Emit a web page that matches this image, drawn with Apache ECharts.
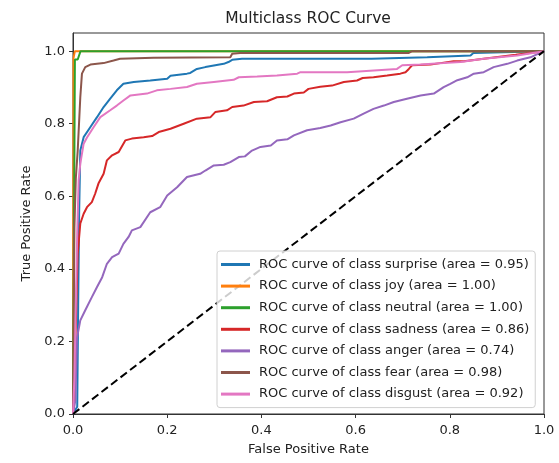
<!DOCTYPE html>
<html>
<head>
<meta charset="utf-8">
<script src="https://cdn.jsdelivr.net/npm/echarts@6/dist/echarts.min.js"></script>
<style>html,body{margin:0;padding:0;background:#fff}#c{width:559px;height:463px}</style>
</head>
<body>
<div id="c"></div>
<script>
// ---- data ----
const classNames = ['surprise', 'joy', 'neutral', 'sadness', 'anger', 'fear', 'disgust'];
const aucValues = ['0.95', '1.00', '1.00', '0.86', '0.74', '0.98', '0.92'];
const colors = ['#1f77b4', '#ff7f0e', '#2ca02c', '#d62728', '#9467bd', '#8c564b', '#e377c2'];
const tickValues = [0, 0.2, 0.4, 0.6, 0.8, 1.0];

const rocSurprise = [[0,0],[0.009,0.02],[0.011,0.3],[0.013,0.55],[0.0155,0.726],[0.0226,0.763],[0.037,0.791],[0.051,0.818],[0.065,0.846],[0.079,0.869],[0.093,0.892],[0.107,0.91],[0.129,0.915],[0.164,0.919],[0.2,0.924],[0.207,0.932],[0.242,0.938],[0.249,0.94],[0.263,0.951],[0.281,0.956],[0.32,0.965],[0.33,0.97],[0.338,0.976],[0.359,0.979],[0.634,0.979],[0.638,0.983],[0.752,0.983],[0.756,0.988],[0.844,0.988],[0.85,0.995],[1,1]];
const rocJoy = [[0,0],[0.001,0.98],[0.004,1.0],[1,1]];
const rocNeutral = [[0,0],[0.004,0.977],[0.01,0.977],[0.016,1.0],[1,1]];
const rocSadness = [[0,0],[0.0013,0.019],[0.004,0.15],[0.007,0.295],[0.01,0.442],[0.0155,0.525],[0.0226,0.552],[0.0297,0.57],[0.04,0.584],[0.047,0.607],[0.054,0.635],[0.065,0.662],[0.072,0.699],[0.083,0.713],[0.097,0.722],[0.1,0.726],[0.111,0.754],[0.125,0.759],[0.15,0.763],[0.168,0.766],[0.182,0.777],[0.207,0.786],[0.235,0.8],[0.263,0.814],[0.292,0.818],[0.302,0.832],[0.327,0.837],[0.338,0.846],[0.362,0.85],[0.384,0.86],[0.412,0.862],[0.433,0.873],[0.455,0.875],[0.469,0.883],[0.49,0.886],[0.5,0.896],[0.525,0.902],[0.55,0.905],[0.575,0.915],[0.603,0.919],[0.615,0.926],[0.638,0.928],[0.667,0.933],[0.695,0.938],[0.706,0.942],[0.713,0.951],[0.72,0.961],[0.759,0.963],[0.78,0.967],[0.808,0.972],[0.83,0.972],[0.872,0.979],[0.94,0.99],[1,1]];
const rocAnger = [[0,0],[0.005,0.038],[0.0085,0.21],[0.0155,0.258],[0.026,0.286],[0.04,0.322],[0.051,0.35],[0.062,0.377],[0.072,0.414],[0.083,0.432],[0.097,0.442],[0.107,0.469],[0.118,0.488],[0.125,0.506],[0.143,0.515],[0.164,0.556],[0.185,0.57],[0.2,0.602],[0.221,0.625],[0.242,0.653],[0.27,0.662],[0.281,0.671],[0.299,0.685],[0.32,0.687],[0.334,0.694],[0.352,0.708],[0.365,0.71],[0.38,0.726],[0.398,0.736],[0.42,0.74],[0.433,0.754],[0.455,0.757],[0.469,0.768],[0.497,0.782],[0.525,0.788],[0.547,0.795],[0.568,0.804],[0.596,0.814],[0.617,0.828],[0.638,0.841],[0.66,0.85],[0.681,0.86],[0.709,0.869],[0.738,0.878],[0.766,0.883],[0.787,0.901],[0.801,0.91],[0.816,0.92],[0.837,0.928],[0.851,0.938],[0.872,0.942],[0.893,0.956],[0.922,0.965],[0.943,0.974],[0.971,0.983],[1,1]];
const rocFear = [[0,0],[0.001,0.2],[0.003,0.515],[0.006,0.65],[0.01,0.726],[0.0155,0.873],[0.019,0.938],[0.026,0.956],[0.037,0.963],[0.065,0.967],[0.086,0.974],[0.1,0.979],[0.171,0.982],[0.334,0.983],[0.338,0.993],[0.355,0.995],[0.713,0.995],[0.72,1.0],[1,1]];
const rocDisgust = [[0,0],[0.003,0.1],[0.006,0.3],[0.009,0.5],[0.012,0.644],[0.0155,0.69],[0.0226,0.745],[0.0297,0.762],[0.044,0.791],[0.058,0.818],[0.079,0.837],[0.093,0.85],[0.107,0.864],[0.122,0.878],[0.157,0.883],[0.178,0.892],[0.207,0.896],[0.242,0.901],[0.263,0.91],[0.299,0.915],[0.341,0.921],[0.352,0.928],[0.391,0.93],[0.433,0.933],[0.476,0.938],[0.483,0.942],[0.582,0.942],[0.688,0.951],[0.699,0.961],[0.738,0.963],[0.787,0.967],[0.823,0.97],[0.872,0.979],[0.943,0.988],[1,1]];
const chanceLine = [[0,0],[1,1]];

const rocData = [rocSurprise, rocJoy, rocNeutral, rocSadness, rocAnger, rocFear, rocDisgust];
const FONT = 'DejaVu Sans';
const TXT = '#222';

const names = classNames.map((c, i) => 'ROC curve of class ' + c + ' (area = ' + aucValues[i] + ')');

const series = rocData.map((d, i) => ({
  name: names[i],
  type: 'line',
  data: d,
  symbol: 'none',
  color: colors[i],
  lineStyle: { width: 2, color: colors[i] },
  z: 2
}));
series.push({
  name: 'chance',
  type: 'line',
  data: chanceLine,
  symbol: 'none',
  color: '#000',
  lineStyle: { width: 2, color: '#000', type: [8, 4] },
  z: 2
});

const chart = echarts.init(document.getElementById('c'), null, { renderer: 'canvas' });
chart.setOption({
  animation: false,
  backgroundColor: '#fff',
  title: {
    text: 'Multiclass ROC Curve',
    left: 308, top: 11, padding: 0,
    textAlign: 'center',
    textStyle: { fontFamily: FONT, fontSize: 15.5, fontWeight: 'normal', color: TXT }
  },
  grid: { left: 73, right: 15, top: 33, bottom: 49, show: true, borderColor: '#333', borderWidth: 1, containLabel: false },
  legend: {
    data: names,
    orient: 'vertical',
    left: 217, top: 251,
    selectedMode: false,
    icon: 'rect',
    itemWidth: 29, itemHeight: 3,
    itemGap: 6.6,
    padding: [6, 6, 6, 4],
    backgroundColor: 'rgba(255,255,255,0.8)',
    borderColor: '#d0d0d0', borderWidth: 1, borderRadius: 3,
    textStyle: { fontFamily: FONT, fontSize: 13, color: TXT, lineHeight: 15, padding: [0, 0, 0, 4] },
    z: 10
  },
  xAxis: {
    type: 'value', min: 0, max: 1, interval: 0.2,
    name: 'False Positive Rate', nameLocation: 'middle', nameGap: 29,
    nameTextStyle: { fontFamily: FONT, fontSize: 13, color: TXT },
    axisLine: { show: true, lineStyle: { color: '#333', width: 1 } },
    axisTick: { show: true, length: 4, lineStyle: { color: '#333' } },
    axisLabel: { fontFamily: FONT, fontSize: 13, color: TXT, margin: 10, formatter: v => v.toFixed(1) },
    splitLine: { show: false }
  },
  yAxis: {
    type: 'value', min: 0, max: 1.05,
    name: 'True Positive Rate', nameLocation: 'middle', nameGap: 36,
    nameTextStyle: { fontFamily: FONT, fontSize: 13, color: TXT },
    axisLine: { show: true, lineStyle: { color: '#333', width: 1 } },
    axisTick: { show: true, length: 4, lineStyle: { color: '#333' }, customValues: tickValues },
    axisLabel: { fontFamily: FONT, fontSize: 13, color: TXT, margin: 8, customValues: tickValues, formatter: v => v.toFixed(1) },
    splitLine: { show: false }
  },
  series: series
});
</script>
</body>
</html>
